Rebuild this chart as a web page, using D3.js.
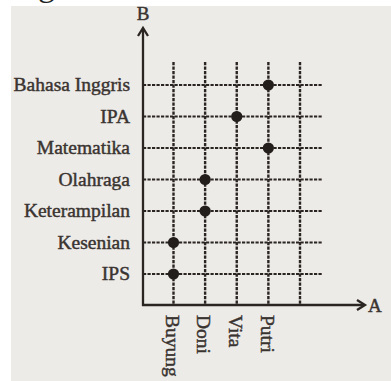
<!DOCTYPE html>
<html><head><meta charset="utf-8">
<script src="https://cdn.jsdelivr.net/npm/d3@7"></script>
<style>html,body{margin:0;padding:0;background:#fff;}svg{display:block;}</style>
</head><body>
<script>
const persons = ["Buyung", "Doni", "Vita", "Putri", ""];
const subjects = ["IPS", "Kesenian", "Keterampilan", "Olahraga", "Matematika", "IPA", "Bahasa Inggris"];
const pairSubjects = ["Bahasa Inggris", "IPA", "Matematika", "Olahraga", "Keterampilan", "Kesenian", "IPS"];
const pairPersons = ["Putri", "Vita", "Putri", "Doni", "Doni", "Buyung", "Buyung"];
const axisLabels = ["A", "B"];

const W = 391, H = 381;
const svg = d3.select("body").append("svg").attr("width", W).attr("height", H);
const ink = "#2b2522", txt = "#3a3431";
const font = "'Liberation Serif', 'Times New Roman', serif";

svg.append("rect").attr("x", 11).attr("y", 6).attr("width", W - 11).attr("height", H - 6).attr("fill", "#edebe8");
svg.append("text").attr("x", 38).attr("y", -4).attr("font-family", font).attr("font-size", 34).attr("fill", "#222").text("g");

const x0 = 143, y0 = 305;
const x = d3.scalePoint().domain(persons).range([173.5, 300]);
const y = d3.scalePoint().domain(subjects).range([274, 85]);

const dash = "3.2,1.3";
// horizontal grid
svg.append("g").selectAll("line").data(subjects).join("line")
  .attr("x1", x0).attr("x2", 322).attr("y1", d => y(d)).attr("y2", d => y(d))
  .attr("stroke", ink).attr("stroke-width", 2.2).attr("stroke-dasharray", dash);
// vertical grid
svg.append("g").selectAll("line").data(persons).join("line")
  .attr("x1", d => x(d)).attr("x2", d => x(d)).attr("y1", 62).attr("y2", y0)
  .attr("stroke", ink).attr("stroke-width", 2.4).attr("stroke-dasharray", dash);

// axes
svg.append("line").attr("x1", x0).attr("x2", x0).attr("y1", y0 + 1).attr("y2", 29).attr("stroke", ink).attr("stroke-width", 2.3);
svg.append("line").attr("x1", x0 - 1).attr("x2", 364).attr("y1", y0).attr("y2", y0).attr("stroke", ink).attr("stroke-width", 2.3);
svg.append("path").attr("d", `M${x0 - 5},${36} L${x0},${28} L${x0 + 5},${36}`).attr("fill", "none").attr("stroke", ink).attr("stroke-width", 2.3);
svg.append("path").attr("d", `M${357},${y0 - 5} L${365},${y0} L${357},${y0 + 5}`).attr("fill", "none").attr("stroke", ink).attr("stroke-width", 2.3);

const textStyle = sel => sel.attr("font-family", font).attr("fill", txt)
  .attr("stroke", txt).attr("stroke-width", 0.45);

svg.append("text").attr("x", 368).attr("y", 312).attr("font-size", 19).call(textStyle).text(axisLabels[0]);
svg.append("text").attr("x", x0).attr("y", 20).attr("text-anchor", "middle").attr("font-size", 19).call(textStyle).text(axisLabels[1]);

// y labels
svg.append("g").selectAll("text").data(subjects).join("text")
  .attr("x", 130).attr("y", d => y(d)).attr("dy", "0.33em").attr("text-anchor", "end")
  .attr("font-size", 19.5).call(textStyle).text(d => d);

// x labels rotated
svg.append("g").selectAll("text").data(persons.filter(d => d)).join("text")
  .attr("transform", d => `translate(${x(d)},315) rotate(90)`)
  .attr("dy", "0.4em")
  .attr("font-size", 19.5).call(textStyle).text(d => d);

// points
svg.append("g").selectAll("circle").data(pairSubjects.map((s, i) => [pairPersons[i], s])).join("circle")
  .attr("cx", d => x(d[0])).attr("cy", d => y(d[1])).attr("r", 5.6).attr("fill", "#231e1c");
</script>
</body></html>
